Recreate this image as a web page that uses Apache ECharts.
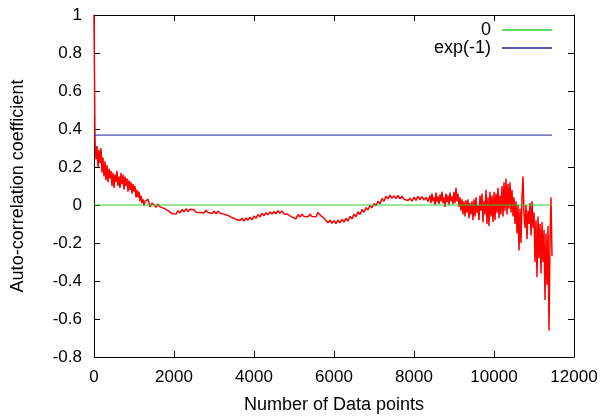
<!DOCTYPE html>
<html>
<head>
<meta charset="utf-8">
<script src="https://cdn.jsdelivr.net/npm/echarts@6/dist/echarts.min.js"></script>
<style>
html,body{margin:0;padding:0;background:#fff;}
#chart{width:603px;height:417px;}
</style>
</head>
<body>
<div id="chart"></div>
<script>
// auto-correlation values
// noisy head (lags 0..1275) and tail (8400..11450) every 25 points, the calm middle every 50
var headStart = 0, headStep = 25;
var acfHead = [
  1.0, 0.34, 0.24, 0.31, 0.20, 0.29, 0.22, 0.30, 0.17, 0.25,
  0.15, 0.23, 0.13, 0.21, 0.12, 0.19, 0.14, 0.18, 0.10, 0.17,
  0.09, 0.16, 0.12, 0.18, 0.10, 0.15, 0.09, 0.17, 0.11, 0.16,
  0.08, 0.15, 0.10, 0.14, 0.07, 0.13, 0.08, 0.12, 0.06, 0.11,
  0.07, 0.10, 0.04, 0.08, 0.04, 0.07, 0.02, 0.05, 0.01, 0.03,
  -0.005, 0.02
];
var midStart = 1300, midStep = 50;
var acfMid = [
  0.01, 0.03, -0.01, 0.01,
  0.005, -0.012, 0.004, -0.01, -0.002, -0.018, -0.012, -0.03, -0.028, -0.045,
  -0.035, -0.048, -0.03, -0.042, -0.024, -0.036, -0.02, -0.034, -0.022, -0.032,
  -0.025, -0.038, -0.028, -0.04, -0.03, -0.042, -0.028, -0.04, -0.032, -0.045,
  -0.033, -0.046, -0.032, -0.044, -0.035, -0.048, -0.04, -0.055, -0.05, -0.066,
  -0.06, -0.076, -0.066, -0.082, -0.07, -0.085, -0.068, -0.08, -0.064, -0.078,
  -0.058, -0.07, -0.05, -0.062, -0.044, -0.056, -0.04, -0.052, -0.036, -0.048,
  -0.034, -0.046, -0.03, -0.044, -0.032, -0.046, -0.036, -0.05, -0.048, -0.064,
  -0.058, -0.072, -0.05, -0.064, -0.048, -0.06, -0.05, -0.062, -0.048, -0.06,
  -0.05, -0.062, -0.04, -0.052, -0.05, -0.07, -0.078, -0.094, -0.08, -0.096,
  -0.082, -0.098, -0.08, -0.094, -0.076, -0.09, -0.07, -0.084, -0.06, -0.074,
  -0.048, -0.062, -0.036, -0.05, -0.024, -0.038, -0.014, -0.026, -0.002, -0.014,
  0.008, -0.004, 0.02, 0.006, 0.034, 0.02, 0.046, 0.032, 0.052, 0.036,
  0.048, 0.034, 0.05, 0.032, 0.046, 0.03, 0.04, 0.024, 0.036, 0.02,
  0.042, 0.024, 0.046, 0.028, 0.044, 0.026, 0.04, 0.018
];
var tailStart = 8400, tailStep = 25;
var acfTail = [
  0.05, 0.01, 0.06, 0.02, 0.04, 0.0, 0.065, 0.015, 0.045, 0.005, 0.055, 0.02,
  0.07, 0.01, 0.04, -0.01, 0.06, 0.015, 0.05, 0.0, 0.065, 0.02, 0.045, 0.005,
  0.07, 0.01, 0.09, 0.02, 0.06, -0.01, 0.04, -0.03, 0.03, -0.05,
  0.02, -0.06, 0.025, -0.04, 0.03, -0.07, 0.01, -0.05, 0.02, -0.08,
  0.03, -0.06, 0.04, -0.04, 0.0, -0.08, 0.05, -0.03, 0.06, -0.09,
  0.02, -0.05, 0.08, -0.1, 0.04, -0.11, 0.07, -0.06, 0.05, -0.09,
  0.07, -0.08, 0.06, -0.04, 0.09, -0.07, 0.05, -0.05, 0.1, -0.06,
  0.12, -0.03, 0.14, -0.05, 0.11, -0.02, 0.12, -0.04, 0.08, -0.06,
  0.04, -0.1, 0.02, -0.15, 0.0, -0.24, -0.02, -0.2, 0.04, 0.15,
  -0.05, -0.12, 0.0, -0.18, -0.03, -0.1, 0.01, -0.16, 0.02, -0.12,
  -0.04, -0.3, -0.08, -0.38, -0.06, -0.28, -0.1, -0.36, -0.09, -0.3,
  -0.13, -0.5, -0.15, -0.42, -0.11, -0.66, -0.2, 0.04, -0.27
];
var refSpan = [0, 11450];     // x range of the two reference lines
var zeroLevel = 0;
var expLevel = 0.3679;        // exp(-1)
var xTicks = [0, 12000, 2000];   // min, max, step
var yTicks = [-0.8, 1, 0.2];

var font = 'Liberation Sans, Arial, Helvetica, sans-serif';
var chart = echarts.init(document.getElementById('chart'));

function toPoints(vals, start, step){
    return vals.map(function(v, i){ return [start + i * step, v]; });
}
var acfPoints = toPoints(acfHead, headStart, headStep)
    .concat(toPoints(acfMid, midStart, midStep))
    .concat(toPoints(acfTail, tailStart, tailStep));
var zeroPoints = refSpan.map(function(x){ return [x, zeroLevel]; });
var expPoints = refSpan.map(function(x){ return [x, expLevel]; });

function axisBase(extra){
    var a = {
        type: 'value',
        axisLine: {show: true, onZero: false, lineStyle: {color: '#000', width: 1}},
        axisTick: {show: true, inside: true, length: 6, lineStyle: {color: '#000'}},
        splitLine: {show: false},
        axisLabel: {show: false}
    };
    for (var k in extra) a[k] = extra[k];
    return a;
}

var legendText = {color: '#000', fontSize: 18, fontFamily: font, padding: [0, 6, 0, 0]};

var options = {
    animation: false,
    backgroundColor: '#fff',
    grid: {left: 94, top: 15, width: 480, height: 342, containLabel: false, outerBoundsMode: 'none'},
    xAxis: [
        axisBase({
            position: 'bottom', min: xTicks[0], max: xTicks[1], interval: xTicks[2],
            axisLabel: {show: true, color: '#000', fontSize: 17, fontFamily: font, margin: 12,
                formatter: function(v){ return String(v); }},
            name: 'Number of Data points', nameLocation: 'middle', nameGap: 39,
            nameTextStyle: {color: '#000', fontSize: 18, fontFamily: font}
        }),
        axisBase({position: 'top', min: xTicks[0], max: xTicks[1], interval: xTicks[2]})
    ],
    yAxis: [
        axisBase({
            position: 'left', min: yTicks[0], max: yTicks[1], interval: yTicks[2],
            axisLabel: {show: true, color: '#000', fontSize: 17, fontFamily: font, margin: 12,
                formatter: function(v){ return String(Math.round(v * 10) / 10); }},
            name: 'Auto-correlation coefficient', nameLocation: 'middle', nameGap: 67,
            nameTextStyle: {color: '#000', fontSize: 18, fontFamily: font}
        }),
        axisBase({position: 'right', min: yTicks[0], max: yTicks[1], interval: yTicks[2]})
    ],
    legend: [
        {
            data: ['0'], right: 51, top: 21, padding: 0, align: 'right', icon: 'rect',
            itemWidth: 50, itemHeight: 1.5, selectedMode: false, textStyle: legendText
        },
        {
            data: ['exp(-1)'], right: 51, top: 39, padding: 0, align: 'right', icon: 'rect',
            itemWidth: 50, itemHeight: 1.5, selectedMode: false, textStyle: legendText
        }
    ],
    series: [
        {
            name: 'acf', type: 'line', data: acfPoints, symbol: 'none',
            lineStyle: {color: '#ff0000', width: 1.5}, z: 2
        },
        {
            name: '0', type: 'line', data: zeroPoints, symbol: 'none',
            itemStyle: {color: '#33cc33'},
            lineStyle: {color: '#33cc33', width: 1}, z: 3
        },
        {
            name: 'exp(-1)', type: 'line', data: expPoints, symbol: 'none',
            itemStyle: {color: '#22229a'},
            lineStyle: {color: '#22229a', width: 1}, z: 3
        }
    ]
};
chart.setOption(options);
</script>
</body>
</html>
